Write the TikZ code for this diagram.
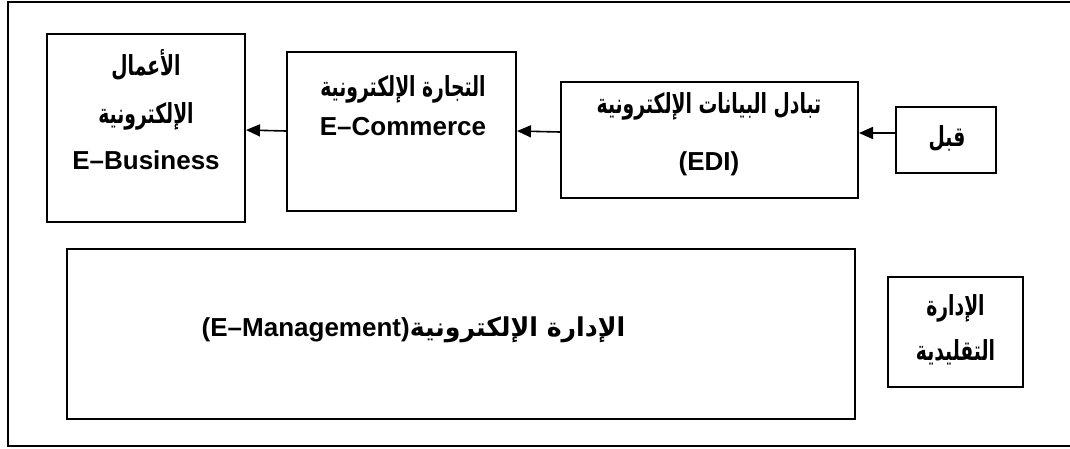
\documentclass[tikz,border=0pt]{standalone}
\usepackage{fontspec}
\setmainfont{Liberation Sans}
\newfontfamily\arabicfont[Script=Arabic,Scale=1.06,FakeStretch=0.68]{DejaVu Sans}
\newfontfamily\arabicwide[Script=Arabic,Scale=1.0,FakeStretch=0.97]{DejaVu Sans}
\TeXXeTstate=1
\usetikzlibrary{arrows.meta,positioning}
\newcommand\artxt[1]{{\arabicfont\beginR #1\endR}}

\begin{document}
\begin{tikzpicture}[
  x=1pt, y=-1pt,
  font=\fontsize{26}{45}\selectfont\bfseries,
  >={Triangle[length=14pt,width=12pt]},
  flow/.style={->, line width=1.6pt, draw=black},
  box/.style={draw=black, line width=2pt, inner sep=0pt},
  caption/.style={align=center, inner sep=0pt, anchor=base},
  frame/.style={draw=black, line width=1.6pt}
]
\useasboundingbox (0,0) rectangle (1070,448);

% outer frame; its right side runs off the page
\draw[frame] (8,2) rectangle (1085,446);

% top row: from the oldest stage (right) to the newest (left)
\node[box, minimum width=100pt, minimum height=66pt] (qabl) at (946,140) {};
\node[box, minimum width=297pt, minimum height=116pt] (edi) at (709.5,140) {};
\node[box, minimum width=229pt, minimum height=159pt] (ecom) at (401.5,131.5) {};
\node[box, minimum width=198pt, minimum height=188pt] (ebiz) at (146,128) {};

% bottom row
\node[box, minimum width=135pt, minimum height=110pt] (trad) at (955.5,332) {};
\node[box, minimum width=788pt, minimum height=170pt] (emgmt) at (461,334) {};

% texts (anchored on the baseline of their last line)
\node[caption] (qabltext) at (947,146) {\artxt{قبل}};
\node[caption] (editext) at (709,170)
  {\artxt{تبادل البيانات الإلكترونية}\\[12pt] (EDI)};
\node[caption] (ecomtext) at (403,135)
  {\artxt{التجارة الإلكترونية}\\[-6pt] E–Commerce};
\node[caption] (ebiztext) at (146,169)
  {\artxt{الأعمال}\\[3pt] \artxt{الإلكترونية}\\[1pt] E–Business};
\node[caption] (tradtext) at (955.5,360)
  {\artxt{الإدارة}\\ \artxt{التقليدية}};
\node[caption] (emgmttext) at (413.5,336)
  {\beginR{\arabicwide الإدارة الإلكترونية}\beginL(E–Management)\endL\endR};

% arrows
\draw[flow] ([yshift=7pt]qabl.west) -- ([yshift=7pt]edi.east);
\draw[flow] ([yshift=8pt]edi.west) -- ([yshift=0.5pt]ecom.east);
\draw[flow] ([yshift=0.5pt]ecom.west) -- ([yshift=-2pt]ebiz.east);

\end{tikzpicture}
\end{document}
